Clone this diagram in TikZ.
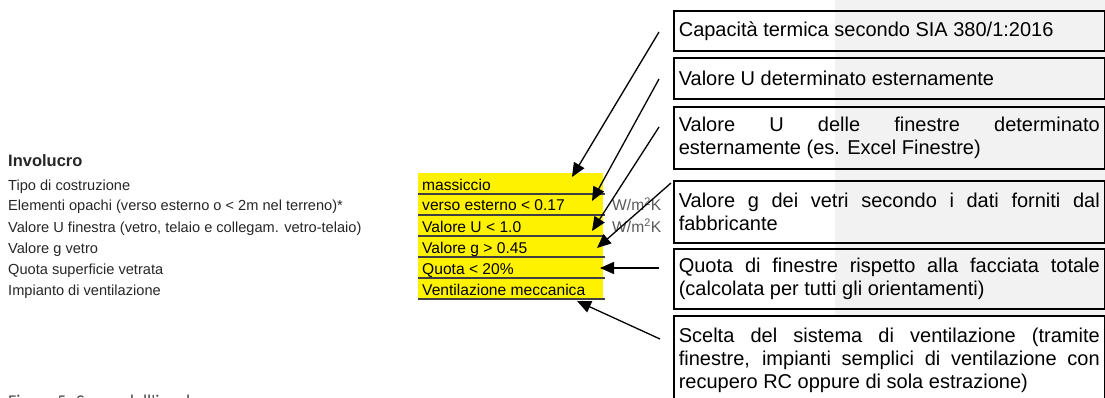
\documentclass[tikz,border=0pt]{standalone}
\usepackage{fontspec}
\setmainfont{Liberation Sans}
\newfontfamily\capfont{Carlito}
\usetikzlibrary{arrows.meta,calc}
\begin{document}
\begin{tikzpicture}[x=1pt,y=-1pt,
  lbl/.style={anchor=base west,inner sep=0pt,font=\fontsize{14.6}{17}\selectfont,text=black!85},
  cell/.style={anchor=base west,inner sep=0pt,font=\fontsize{15.6}{18}\selectfont,text=black},
  unit/.style={anchor=base west,inner sep=0pt,font=\fontsize{15.6}{18}\selectfont,text=black!65},
  infobox/.style={draw=black,line width=1.6pt,anchor=north west,text width=421pt,inner xsep=5pt,inner ysep=3pt,align=justify,font=\fontsize{20}{23}\selectfont},
  sep/.style={draw=black!75,line width=1.8pt},
  pointer/.style={draw=black,line width=1.3pt,-{Triangle[length=14pt,width=12pt]}}
]
\useasboundingbox (0,0) rectangle (1105,398);
\fill[black!5] (835,0) rectangle (1105,317);

% left labels
\node[lbl,font=\fontsize{16.5}{19}\selectfont\bfseries] (head) at (8,167) {Involucro};
\node[lbl] (l1) at (8,190) {Tipo di costruzione};
\node[lbl] (l2) at (8,211) {Elementi opachi (verso esterno o < 2m nel terreno)*};
\node[lbl] (l3) at (8,232) {Valore U finestra (vetro, telaio e collegam. vetro-telaio)};
\node[lbl] (l4) at (8,253) {Valore g vetro};
\node[lbl] (l5) at (8,274) {Quota superficie vetrata};
\node[lbl] (l6) at (8,295) {Impianto di ventilazione};

% yellow table
\fill[yellow] (418,173) rectangle (603,299);
\foreach \y in {194,215,236,257,278,299} \draw[sep] (418,\y) -- (605,\y);
\node[cell] (r1) at (422,190) {massiccio};
\node[cell] (r2) at (422,211) {verso esterno < 0.17};
\node[cell] (r3) at (422,232) {Valore U < 1.0};
\node[cell] (r4) at (422,253) {Valore g > 0.45};
\node[cell] (r5) at (422,274) {Quota < 20\%};
\node[cell] (r6) at (422,295) {Ventilazione meccanica};
\node[unit] (u1) at (612,211) {W/m\textsuperscript{2}K};
\node[unit] (u2) at (612,232) {W/m\textsuperscript{2}K};

% info boxes
\node[infobox,minimum height=40pt] (b1) at (673,10) {Capacità termica secondo SIA 380/1:2016};
\node[infobox,minimum height=41pt] (b2) at (673,57) {Valore U determinato esternamente};
\node[infobox,minimum height=62pt] (b3) at (673,106) {Valore U delle finestre determinato\linebreak esternamente (es. Excel Finestre)};
\node[infobox,minimum height=62pt] (b4) at (673,180) {Valore g dei vetri secondo i dati forniti dal\linebreak fabbricante};
\node[infobox,minimum height=60pt] (b5) at (673,248) {Quota di finestre rispetto alla facciata totale\linebreak (calcolata per tutti gli orientamenti)};
\node[infobox,minimum height=90pt] (b6) at (673,315) {Scelta del sistema di ventilazione (tramite\linebreak finestre, impianti semplici di ventilazione con\linebreak recupero RC oppure di sola estrazione)};

% arrow ends
\coordinate (s1) at (659,32);  \coordinate (t1) at (572,177);
\coordinate (s2) at (659,79);  \coordinate (t2) at (592,201);
\coordinate (s3) at (659,127); \coordinate (t3) at (592,231);
\coordinate (s4) at (671,183); \coordinate (t4) at (597,248);
\coordinate (s5) at (659,268); \coordinate (t5) at (600,268);
\coordinate (s6) at (660,339); \coordinate (t6) at (577,301);
\foreach \i in {1,...,6} \draw[pointer] (s\i) -- (t\i);

% caption (cut off at the bottom edge, as in the reference)
\node[anchor=base west,inner sep=0pt,font=\capfont\fontsize{18}{20}\selectfont,text=black!70] (cap) at (8,407) {Figura 5: Scopo dell'involucro};
\end{tikzpicture}
\end{document}
